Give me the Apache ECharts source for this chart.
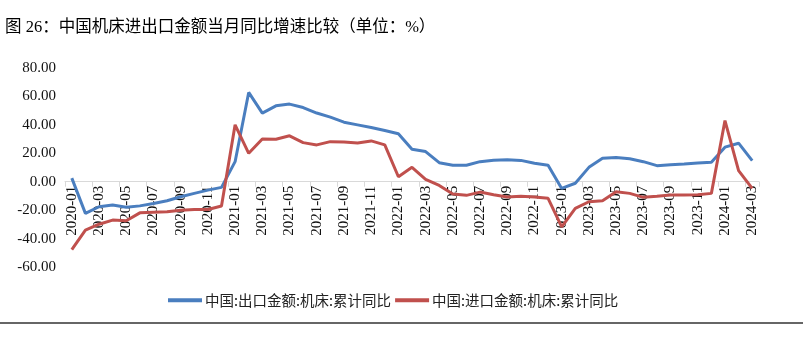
<!DOCTYPE html>
<html>
<head>
<meta charset="utf-8">
<script src="https://cdn.jsdelivr.net/npm/echarts@6/dist/echarts.min.js"></script>
<style>
  html, body { margin: 0; padding: 0; background: #fff; }
  #chart { width: 808px; height: 349px; }
</style>
</head>
<body>
<div id="chart"></div>
<script>
// Monthly categories 2020-01 .. 2024-03
const months = [];
for (let y = 2020; y <= 2024; y++) {
  for (let m = 1; m <= 12; m++) {
    if (y === 2024 && m > 3) break;
    months.push(y + '-' + String(m).padStart(2, '0'));
  }
}

// 中国:出口金额:机床:累计同比 (%)
const exportYoY = [
  2.5, -22.3, -17.6, -16.4, -18.0, -17.0, -15.3, -13.4, -10.6, -8.2, -5.9, -4.0,
  14.1, 62.8, 48.3, 53.4, 54.6, 52.2, 48.3, 45.4, 41.9, 40.0, 38.1, 36.0,
  33.7, 22.9, 21.2, 13.4, 11.6, 11.6, 14.1, 15.1, 15.5, 15.0, 13.0, 11.6,
  -4.7, -1.1, 10.1, 16.5, 17.0, 16.2, 14.1, 11.3, 12.0, 12.5, 13.2, 13.7,
  24.3, 27.1, 14.8
];

// 中国:进口金额:机床:累计同比 (%)
const importYoY = [
  -47.7, -34.1, -29.9, -27.0, -27.5, -21.9, -21.4, -21.2, -20.0, -19.5, -19.5, -17.1,
  40.0, 20.0, 30.1, 29.9, 32.3, 27.5, 25.9, 28.2, 28.0, 27.3, 28.7, 25.9,
  3.5, 10.1, 1.7, -2.6, -8.7, -9.6, -7.3, -9.2, -10.8, -10.3, -10.8, -11.7,
  -31.8, -18.8, -14.1, -13.4, -7.1, -8.2, -11.0, -10.3, -9.4, -9.4, -9.2, -8.2,
  43.0, 7.8, -4.7
];

const seriesNames = ['中国:出口金额:机床:累计同比', '中国:进口金额:机床:累计同比'];
const titleText = '图 26：中国机床进出口金额当月同比增速比较（单位：%）';

const yMin = -60, yMax = 80, yStep = 20;

const serif = '"Times New Roman", "Liberation Serif", serif';
const cjk = '"Liberation Serif", "Noto Sans CJK SC", sans-serif';

// Plot area geometry; the category axis is lifted to sit on the zero line
const W = 808, H = 349;
const gridTop = 68, gridBottom = 82;
const plotH = H - gridTop - gridBottom;
const zeroShift = -plotH * (0 - yMin) / (yMax - yMin);

const chart = echarts.init(document.getElementById('chart'), null, { renderer: 'canvas' });
chart.setOption({
  animation: false,
  backgroundColor: '#ffffff',
  title: {
    text: titleText,
    left: 0,
    top: 14,
    textStyle: { fontFamily: cjk, fontSize: 16.5, fontWeight: 'normal', color: '#000' }
  },
  legend: {
    data: seriesNames,
    left: 163,
    top: 288,
    itemWidth: 34,
    itemHeight: 4,
    itemGap: 4,
    icon: 'rect',
    textStyle: { fontFamily: '"Noto Sans CJK SC", sans-serif', fontSize: 14.5, color: '#222', padding: [0, 0, 0, -2] }
  },
  grid: { left: 65, right: 49, top: gridTop, bottom: gridBottom, containLabel: false },
  xAxis: {
    type: 'category',
    data: months,
    boundaryGap: true,
    position: 'bottom',
    offset: zeroShift,
    axisLine: { onZero: false, lineStyle: { color: '#d9d9d9', width: 1 } },
    axisTick: { show: true, interval: 1, length: 5, lineStyle: { color: '#d9d9d9' } },
    axisLabel: {
      interval: 1,
      rotate: 90,
      margin: 4,
      fontFamily: serif,
      fontSize: 15,
      color: '#111'
    },
    splitLine: { show: false }
  },
  yAxis: {
    type: 'value',
    min: yMin,
    max: yMax,
    interval: yStep,
    axisLine: { show: false },
    axisTick: { show: false },
    splitLine: { show: false },
    axisLabel: {
      margin: 9,
      fontFamily: serif,
      fontSize: 15,
      color: '#111',
      formatter: v => v.toFixed(2)
    }
  },
  series: [
    {
      name: seriesNames[0],
      type: 'line',
      data: exportYoY,
      symbol: 'none',
      lineStyle: { width: 3, color: '#4a7ebf' },
      itemStyle: { color: '#4a7ebf' }
    },
    {
      name: seriesNames[1],
      type: 'line',
      data: importYoY,
      symbol: 'none',
      lineStyle: { width: 3, color: '#c0504d' },
      itemStyle: { color: '#c0504d' }
    }
  ],
  graphic: [
    {
      type: 'line',
      shape: { x1: 0, y1: 323, x2: 803, y2: 323 },
      style: { stroke: '#333', lineWidth: 1.5 }
    }
  ]
});
</script>
</body>
</html>
